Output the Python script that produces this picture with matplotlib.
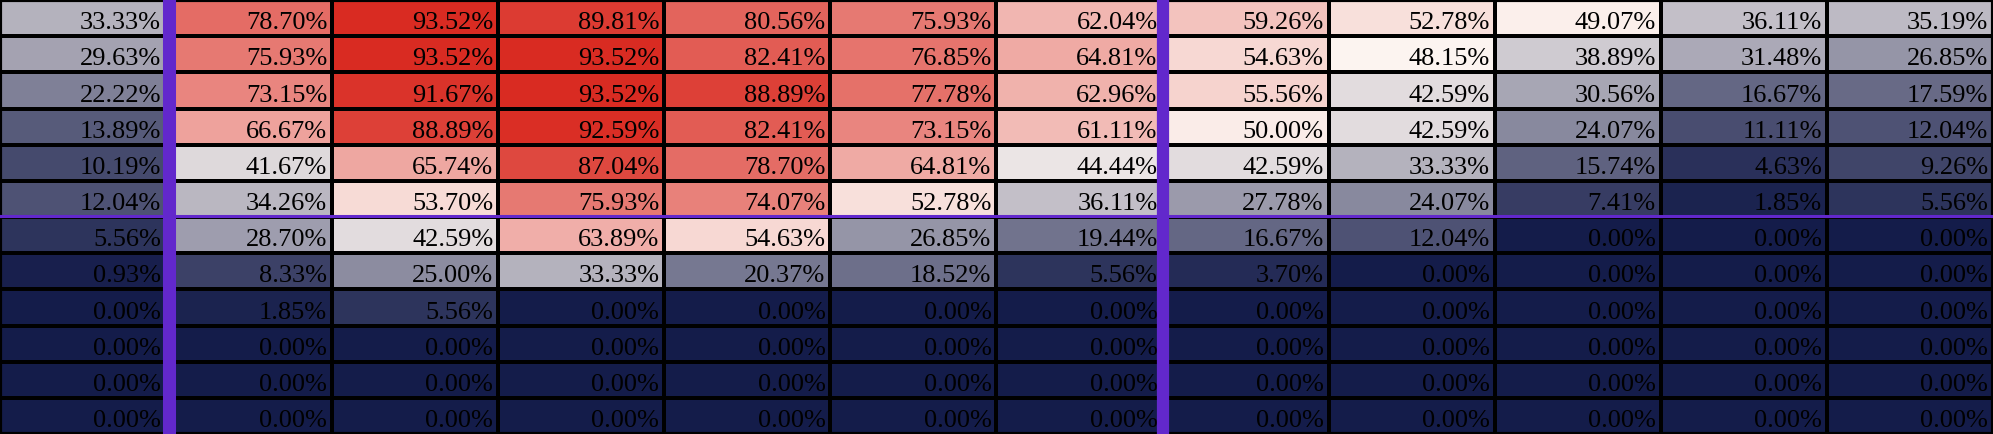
import numpy as np
import matplotlib.pyplot as plt
from matplotlib.colors import LinearSegmentedColormap, TwoSlopeNorm

# percentage table, 12 rows x 12 columns
row1 = [33.33, 78.70, 93.52, 89.81, 80.56, 75.93, 62.04, 59.26, 52.78, 49.07, 36.11, 35.19]
row2 = [29.63, 75.93, 93.52, 93.52, 82.41, 76.85, 64.81, 54.63, 48.15, 38.89, 31.48, 26.85]
row3 = [22.22, 73.15, 91.67, 93.52, 88.89, 77.78, 62.96, 55.56, 42.59, 30.56, 16.67, 17.59]
row4 = [13.89, 66.67, 88.89, 92.59, 82.41, 73.15, 61.11, 50.00, 42.59, 24.07, 11.11, 12.04]
row5 = [10.19, 41.67, 65.74, 87.04, 78.70, 64.81, 44.44, 42.59, 33.33, 15.74, 4.63, 9.26]
row6 = [12.04, 34.26, 53.70, 75.93, 74.07, 52.78, 36.11, 27.78, 24.07, 7.41, 1.85, 5.56]
row7 = [5.56, 28.70, 42.59, 63.89, 54.63, 26.85, 19.44, 16.67, 12.04, 0.00, 0.00, 0.00]
row8 = [0.93, 8.33, 25.00, 33.33, 20.37, 18.52, 5.56, 3.70, 0.00, 0.00, 0.00, 0.00]
row9 = [0.00, 1.85, 5.56, 0.00, 0.00, 0.00, 0.00, 0.00, 0.00, 0.00, 0.00, 0.00]
row10 = [0.00] * 12
row11 = [0.00] * 12
row12 = [0.00] * 12

data = np.array([row1, row2, row3, row4, row5, row6,
                 row7, row8, row9, row10, row11, row12])
nrows, ncols = data.shape

cmap = LinearSegmentedColormap.from_list(
    "navy_white_red", ["#141c4a", "#fcf5f1", "#d92b22"])
norm = TwoSlopeNorm(vmin=0, vcenter=48.0, vmax=93.52)

purple = "#6228cc"

fig = plt.figure(figsize=(19.93, 4.34), dpi=100)
ax = fig.add_axes([0, 0, 1, 1])
ax.pcolormesh(np.arange(ncols + 1), np.arange(nrows + 1), data,
              cmap=cmap, norm=norm, edgecolors="black", linewidth=1.5)
ax.set_xlim(0, ncols)
ax.set_ylim(nrows, 0)
ax.set_xticks([])
ax.set_yticks([])
for s in ax.spines.values():
    s.set_color("black")
    s.set_linewidth(3)

for i in range(nrows):
    for j in range(ncols):
        ax.text(j + 1 - 0.03, i + 0.81, f"{data[i, j]:.2f}%",
                ha="right", va="baseline", color="black",
                fontsize=19, family="Liberation Serif")

# separators
ax.axhline(6 - 0.04, color=purple, linewidth=2.2, zorder=5)
ax.axvline(1.015, color=purple, linewidth=9.4, zorder=6)
ax.axvline(7.0, color=purple, linewidth=8.8, zorder=6)

fig.savefig("out.png", dpi=100)
